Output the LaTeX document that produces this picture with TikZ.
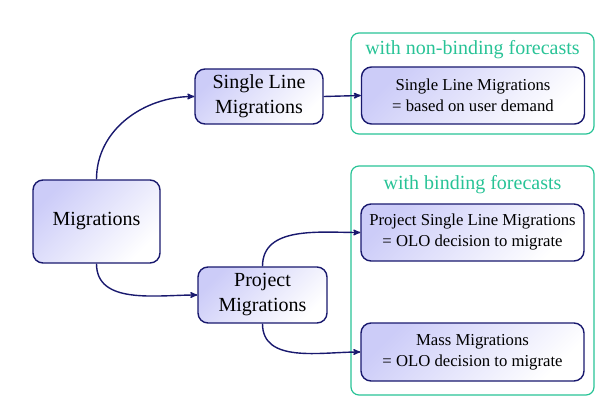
\documentclass[tikz,border=0pt]{standalone}
\usepackage{fontspec}
\setmainfont{Liberation Serif}
\newfontfamily\boxfont{LiberationSerif-Regular.ttf}
\usepackage{tikz}
\usetikzlibrary{arrows,positioning,shapes.geometric}
\definecolor{navy}{RGB}{25,25,110}
\definecolor{grpgreen}{RGB}{40,195,150}
\definecolor{lav}{RGB}{204,204,248}

\begin{document}
\begin{tikzpicture}[x=1pt,y=1pt,->,>=stealth',
	box/.style={draw=navy, line width=1.4pt, rounded corners=10pt, top color=lav, bottom color=white, shading angle=45, inner sep=0pt, align=center},
	bigbox/.style={box, font=\boxfont\fontsize{20}{25}\selectfont},
	smallbox/.style={box, minimum width=223pt, minimum height=57pt, font=\boxfont\fontsize{16.7}{21}\selectfont},
	grp/.style={draw=grpgreen, line width=1.2pt, rounded corners=8pt, minimum width=243pt},
	grplabel/.style={text=grpgreen, font=\boxfont\fontsize{20}{24}\selectfont},
	conn/.style={draw=navy, line width=1.4pt}]
\useasboundingbox (0,0) rectangle (605,408);
% groups
\node[grp, minimum height=101pt] (grp1) at (472.5,324.5) {};
\node[grplabel] (lab1) at (472.5,358) {with non-binding forecasts};
\node[grp, minimum height=229pt] (grp2) at (472.5,127.5) {};
\node[grplabel] (lab2) at (472.5,223) {with binding forecasts};
% boxes
\node[bigbox, minimum width=127pt, minimum height=83pt] (mig) at (96.5,186.5) {Migrations};
\node[bigbox, minimum width=128pt, minimum height=55pt] (single) at (259,311.5) {Single Line\\Migrations};
\node[bigbox, minimum width=129pt, minimum height=56pt] (project) at (262.5,113) {Project\\Migrations};
\node[smallbox] (slm) at (473,312.5) {Single Line Migrations\\= based on user demand};
\node[smallbox] (pslm) at (472.5,175.5) {Project Single Line Migrations\\= OLO decision to migrate};
\node[smallbox, minimum height=58pt] (mass) at (472.5,56) {Mass Migrations\\= OLO decision to migrate};
% connectors
\draw[conn] (mig.north) to[out=90, in=180] (single.west);
\draw[conn] (mig.south) to[out=-90, in=180] (project.west);
\draw[conn] (single.east) -- (slm.west);
\draw[conn] (project.north) to[out=90, in=180] (pslm.west);
\draw[conn] (project.south) to[out=-90, in=180] (mass.west);
\end{tikzpicture}
\end{document}
